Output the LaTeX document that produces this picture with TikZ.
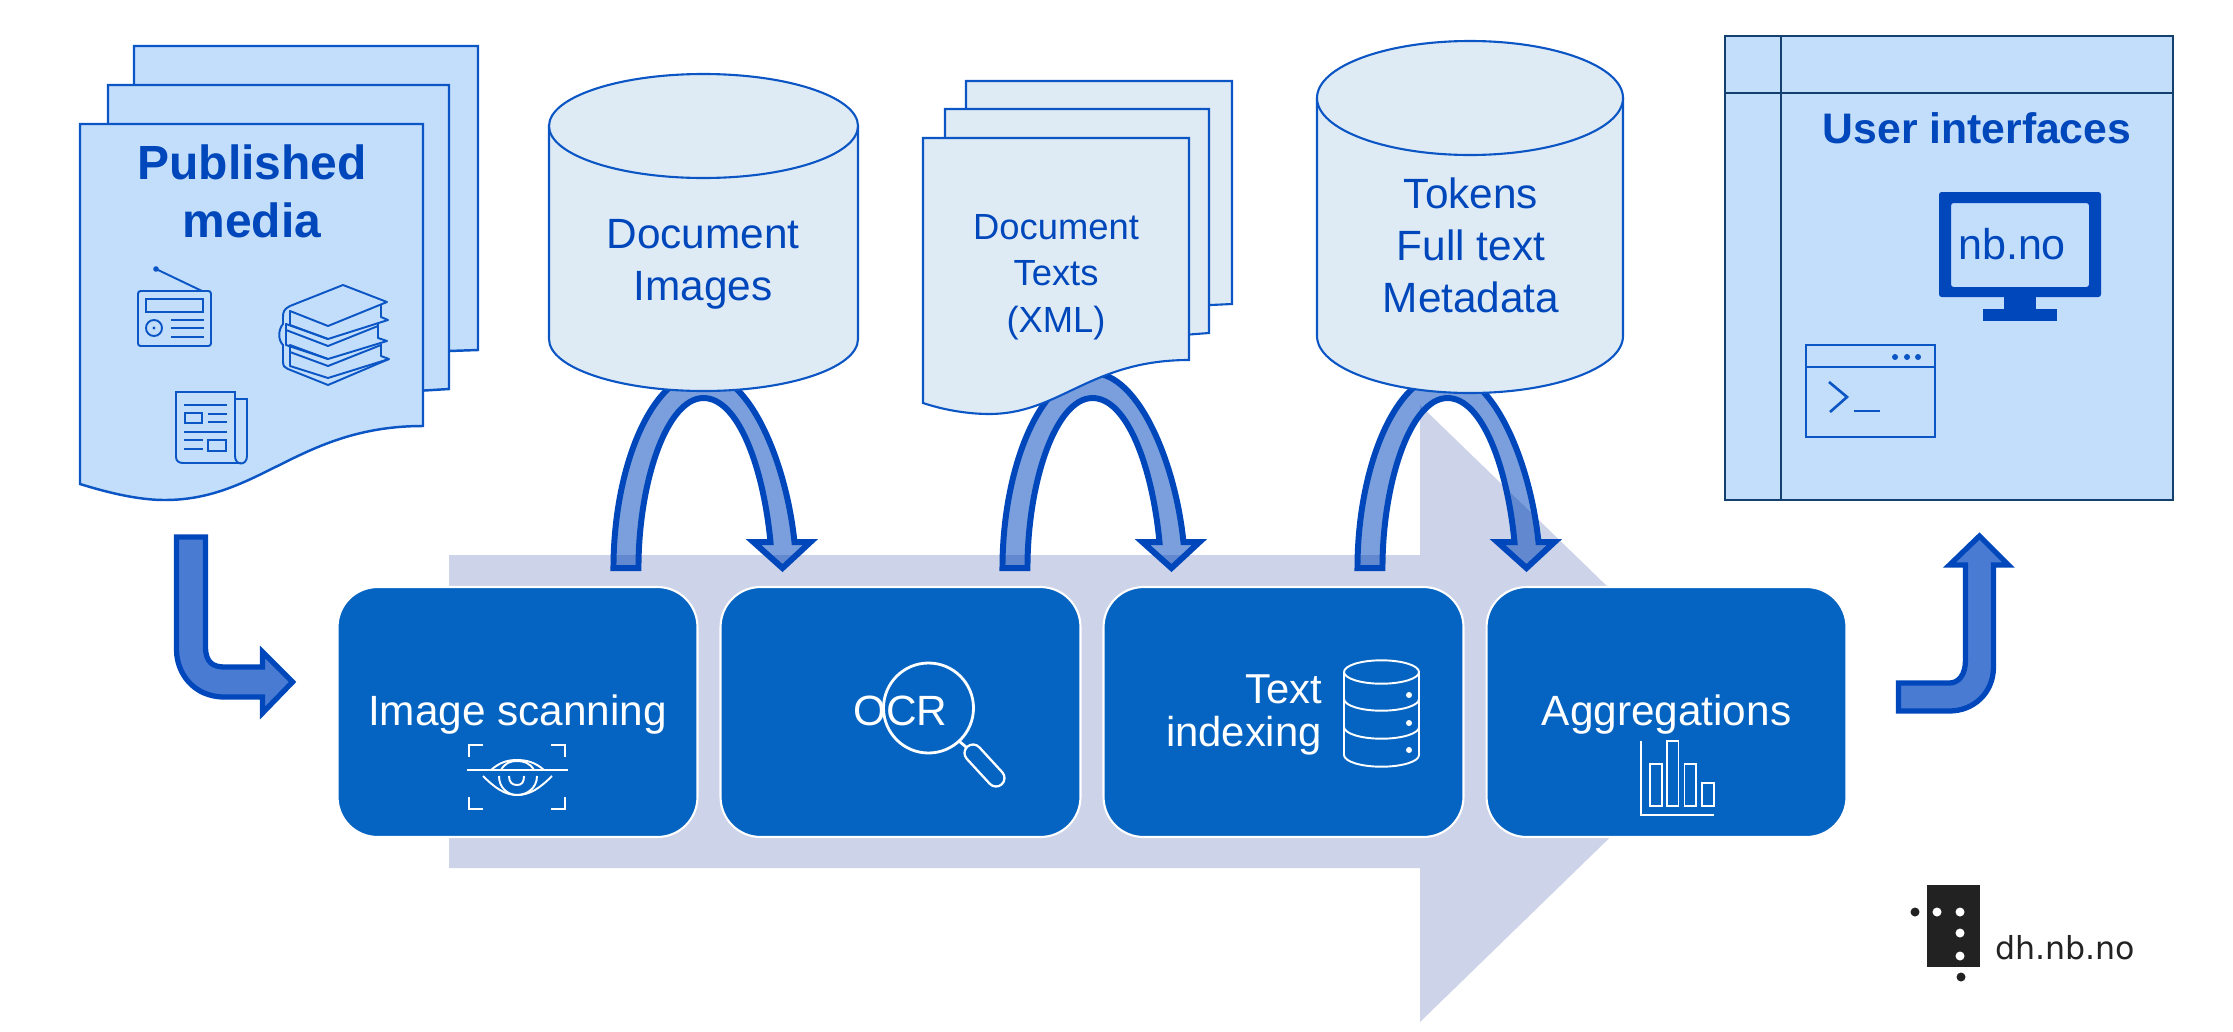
\documentclass[tikz,border=0pt]{standalone}
\usepackage{fontspec}
\setmainfont{Liberation Sans}
\newfontfamily\logofont{DejaVu Sans}
\usetikzlibrary{calc}

\definecolor{paleblue}{HTML}{C2DEFB}
\definecolor{storeblue}{HTML}{DEEBF5}
\definecolor{inkblue}{HTML}{0047BB}
\definecolor{edgeblue}{HTML}{0B55C5}
\definecolor{stageblue}{HTML}{0563C1}
\definecolor{elbowblue}{HTML}{4A7BD3}
\definecolor{flowgrey}{HTML}{CDD3E8}
\definecolor{framenavy}{HTML}{14406F}
\definecolor{logoblack}{HTML}{222222}

\tikzset{
    stage/.style={draw=white, line width=1.2pt, fill=stageblue, text=white,
        rounded corners=0.8cm, minimum width=7.2cm, minimum height=5cm,
        outer sep=0pt, font=\fontsize{24.1}{29}\selectfont, align=center,
        text height=20pt, text depth=5.2pt},
    mediapage/.style={draw=edgeblue, line width=1.4pt, fill=paleblue},
    storeshape/.style={draw=edgeblue, line width=1.2pt, fill=storeblue},
    looparc/.style={draw=inkblue, line width=3.4pt, fill=inkblue, fill opacity=0.52,
        draw opacity=1, line join=miter},
    elbow/.style={draw=inkblue, line width=3pt, fill=elbowblue, line join=miter},
    whiteicon/.style={draw=white, line width=1.1pt},
    blueicon/.style={draw=edgeblue, line width=1.1pt},
    inklabel/.style={text=inkblue, align=center, font=\fontsize{24.1}{29.6}\selectfont},
}

% arch from one stage down to the next, #1 is the foot of the left leg
\newcommand{\looparrow}[1]{
    \draw[looparc, shift={(#1)}] (0,0) .. controls (0,-100) and (38,-195) .. (90,-195)
        .. controls (136,-195) and (173,-105) .. (181,-26) -- (197,-26) -- (169,0)
        -- (140,-26) -- (157,-26) .. controls (150,-100) and (125,-170) .. (90,-170)
        .. controls (53,-170) and (25,-85) .. (25,0) -- cycle;
}

% drum: #1 centre x, #2 half width, #3 y of lid centre, #4 y of foot, #5 half lid
\newcommand{\drum}[5]{
    \draw[storeshape] (#1-#2,#3) -- (#1-#2,#4) arc[start angle=180, end angle=0, x radius=#2, y radius=#5]
        -- (#1+#2,#3) arc[start angle=0, end angle=-180, x radius=#2, y radius=#5] -- cycle;
    \draw[storeshape] (#1-#2,#3) arc[start angle=180, end angle=0, x radius=#2, y radius=#5];
}

\begin{document}
\begin{tikzpicture}[x=0.02cm, y=-0.02cm]
\useasboundingbox (0,0) rectangle (2233,1031);

% the long flow arrow behind everything
\fill[flowgrey] (449,555) -- (1420,555) -- (1420,405) -- (1738,713) -- (1420,1022)
    -- (1420,868) -- (449,868) -- cycle;

\node[stage] (scan) at (517.5,712) {Image scanning};
\node[stage] (ocr) at (900.5,712) {OCR};
\node[stage] (index) at (1283.5,712) {};
\node[stage] (agg) at (1666.5,712) {Aggregations};

\coordinate (scanfoot) at ($(scan.north east)+(-84,-19)$);
\coordinate (ocrfoot) at ($(ocr.north east)+(-78,-19)$);
\coordinate (indexfoot) at ($(index.north east)+(-106,-19)$);
\looparrow{scanfoot}
\looparrow{ocrfoot}
\looparrow{indexfoot}

% published media
\draw[mediapage] (134,200) -- (134,46) -- (478,46) -- (478,350) -- (420,352) -- cycle;
\draw[mediapage] (108,200) -- (108,85) -- (449,85) -- (449,389) -- (400,392) -- cycle;
\draw[mediapage] (80,484) -- (80,124) -- (423,124) -- (423,426)
    .. controls (300,426) and (260,500) .. (165,500)
    .. controls (150,500) and (125,498) .. (80,484) -- cycle;
\node[text=inkblue, align=center, font=\fontsize{27.3}{33}\bfseries\selectfont] (media) at (252,191) {Published\\media};

% radio
\draw[blueicon, rounded corners=1.5pt] (138,291) rectangle (211,346);
\draw[blueicon] (146,299) rectangle (203,312);
\draw[blueicon] (154,328) circle[radius=8];
\fill[edgeblue] (154,328) circle[radius=1.6];
\foreach \y in {320, 328, 337} {
    \draw[blueicon] (171,\y) -- (204,\y);
}
\draw[blueicon] (202,291) -- (156,269);
\fill[edgeblue] (156,269) circle[radius=2.8];

% books
\draw[blueicon, line join=round] (290,306) -- (343,285) -- (387,302) -- (328,326) -- (290,311)
    -- (290,325) -- (328,339) -- (388,320) -- (381,317) -- (381,305);
\draw[blueicon, line join=round] (286,330) -- (286,345) -- (328,359) -- (387,341) -- (378,338) -- (378,324);
\draw[blueicon, line join=round] (328,339) -- (286,324) -- (286,330) -- (328,346) -- (378,326);
\draw[blueicon, line join=round] (290,352) -- (290,366) -- (328,378) -- (389,359) -- (381,356) -- (381,344);
\draw[blueicon, line join=round] (328,359) -- (290,345) -- (290,352) -- (328,366) -- (381,345);
\draw[blueicon] (290,306) .. controls (284,309) and (283,312) .. (283,317) -- (283,324)
    .. controls (278,330) and (278,340) .. (283,345) -- (283,362)
    .. controls (283,366) and (285,368) .. (288,369) -- (328,385) -- (389,359);

% newspaper
\draw[blueicon] (235,399) -- (247,399) -- (247,456) .. controls (247,466) and (235,466) .. (235,456)
    -- (235,392) -- (176,392) -- (176,457) .. controls (176,461) and (179,463) .. (183,463) -- (241,463);
\draw[blueicon] (184,405) -- (227,405);
\draw[blueicon] (185,413) rectangle (202,423);
\draw[blueicon] (208,414) -- (227,414);
\draw[blueicon] (208,422) -- (227,422);
\draw[blueicon] (184,432) -- (227,432);
\draw[blueicon] (184,440) -- (203,440);
\draw[blueicon] (184,449) -- (203,449);
\draw[blueicon] (208,440) rectangle (226,451);

% stores and pages above the stages
\drum{703.5}{154.5}{126}{339}{52}
\node[inklabel] (images) at (703,264) {Document\\Images};

\draw[storeshape] (966,200) -- (966,81) -- (1232,81) -- (1232,304) -- (1190,306) -- cycle;
\draw[storeshape] (945,200) -- (945,109) -- (1209,109) -- (1209,333) -- (1170,336) -- cycle;
\draw[storeshape] (923,403) -- (923,138) -- (1189,138) -- (1189,360)
    .. controls (1090,360) and (1060,414) .. (989,414)
    .. controls (975,414) and (950,412) .. (923,403) -- cycle;
\node[text=inkblue, align=center, font=\fontsize{20.7}{26.4}\selectfont] (texts) at (1056,277) {Document\\Texts\\(XML)};

\drum{1470}{153}{98}{336}{57}
\node[inklabel] (tokens) at (1471,245.5) {Tokens\\Full text\\Metadata};

% stage pictures
\draw[whiteicon] (469,757) -- (469,745) -- (483,745);
\draw[whiteicon] (551,745) -- (565,745) -- (565,757);
\draw[whiteicon] (469,797) -- (469,809) -- (483,809);
\draw[whiteicon] (551,809) -- (565,809) -- (565,797);
\draw[whiteicon] (467,770) -- (568,770);
\draw[whiteicon] (491,770) .. controls (500,762) and (508,760) .. (517,760) .. controls (526,760) and (535,762) .. (544,770);
\draw[whiteicon] (501,770) .. controls (505,763) and (510,761) .. (517,761) .. controls (524,761) and (530,763) .. (534,770);
\draw[whiteicon] (483,776) .. controls (495,788) and (505,795) .. (517,795) .. controls (530,795) and (540,788) .. (552,776);
\draw[whiteicon] (499,776) .. controls (499,788) and (508,795) .. (517,795) .. controls (527,795) and (537,788) .. (537,776);
\draw[whiteicon] (509,776) .. controls (509,782) and (512,785) .. (517,785) .. controls (522,785) and (524,782) .. (524,776);

\draw[whiteicon, line width=1.6pt] (928.5,708) circle[radius=45];
\draw[whiteicon, line width=1.6pt] (959,741) -- (966,747);
\draw[white, line width=11pt, line cap=round] (973,753) -- (996,778);
\draw[stageblue, line width=8.2pt, line cap=round] (973,753) -- (996,778);

\node[text=white, align=right, anchor=east, font=\fontsize{23.8}{24.5}\selectfont] (indexlabel) at (1328,715) {Text\\indexing};
\draw[whiteicon] (1381.5,672) ellipse[x radius=37.5, y radius=11.7];
\draw[whiteicon] (1344,672) -- (1344,755) arc[start angle=180, end angle=0, x radius=37.5, y radius=11.7] -- (1419,672);
\foreach \y in {699, 727} {
    \draw[whiteicon] (1344,\y) arc[start angle=180, end angle=0, x radius=37.5, y radius=11.7];
}
\foreach \y in {695, 723, 750} {
    \fill[white] (1409,\y) circle[radius=3];
}

\draw[whiteicon] (1641,741) -- (1641,815) -- (1714,815);
\draw[whiteicon] (1650,764) rectangle (1662,806);
\draw[whiteicon] (1667,741) rectangle (1678.5,806);
\draw[whiteicon] (1684.5,764) rectangle (1696,806);
\draw[whiteicon] (1702,783) rectangle (1714,806);

% in and out of the flow
\coordinate (scanin) at ($(scan.west)+(-45,-30)$);
\coordinate (aggout) at ($(agg.east)+(52,-29)$);
\draw[elbow, shift={(scanin)}] (-116,-145) -- (-87,-145) -- (-87,-35)
    .. controls (-87,-20) and (-80,-15) .. (-68,-15) -- (-30,-15) -- (-30,-30)
    -- (0,0) -- (-30,31) -- (-30,15) -- (-68,15)
    .. controls (-100,15) and (-116,-10) .. (-116,-32) -- cycle;
\draw[elbow, shift={(aggout)}] (0,0) -- (51,0) .. controls (60,0) and (67,-8) .. (67,-23)
    -- (67,-118) -- (51,-118) -- (81,-147) -- (110,-118) -- (95,-118) -- (95,-16)
    .. controls (95,10) and (75,28) .. (51,28) -- (0,28) -- cycle;

% user interfaces
\draw[draw=framenavy, line width=1.3pt, fill=paleblue] (1725,36) rectangle (2173,500);
\draw[draw=framenavy, line width=1.3pt] (1781,36) -- (1781,500);
\draw[draw=framenavy, line width=1.3pt] (1725,93) -- (2173,93);
\node[text=inkblue, font=\fontsize{24.3}{30}\bfseries\selectfont] (ui) at (1977,128) {User interfaces};

\fill[inkblue, rounded corners=1.5pt, even odd rule] (1939,192) rectangle (2101,297) (1951,203) rectangle (2089,287);
\fill[inkblue] (2004,297) rectangle (2036,309);
\fill[inkblue] (1983,309) rectangle (2057,321);
\node[text=inkblue, font=\fontsize{24.5}{29}\selectfont] (nbno) at (2012,244) {nb.no};

\draw[blueicon, line width=1.5pt] (1806,345) rectangle (1935,437);
\draw[blueicon, line width=1.5pt] (1806,367) -- (1935,367);
\foreach \x in {1895, 1907, 1918} {
    \fill[edgeblue] (\x,357) circle[radius=3];
}
\draw[blueicon, line width=1.5pt] (1829,382) -- (1847,397) -- (1830,412);
\draw[blueicon, line width=1.5pt] (1854,411) -- (1880,411);

% logo
\fill[logoblack] (1927,885) rectangle (1980,967);
\foreach \x/\y in {1937/912, 1960/912, 1960/933, 1960/956} {
    \fill[white] (\x,\y) circle[radius=4.5];
}
\fill[logoblack] (1915,912) circle[radius=4.5];
\fill[logoblack] (1961,977) circle[radius=4.5];
\node[text=logoblack, font=\fontsize{18}{22}\logofont\selectfont] (logotext) at (2065,948) {dh.nb.no};
\end{tikzpicture}
\end{document}
